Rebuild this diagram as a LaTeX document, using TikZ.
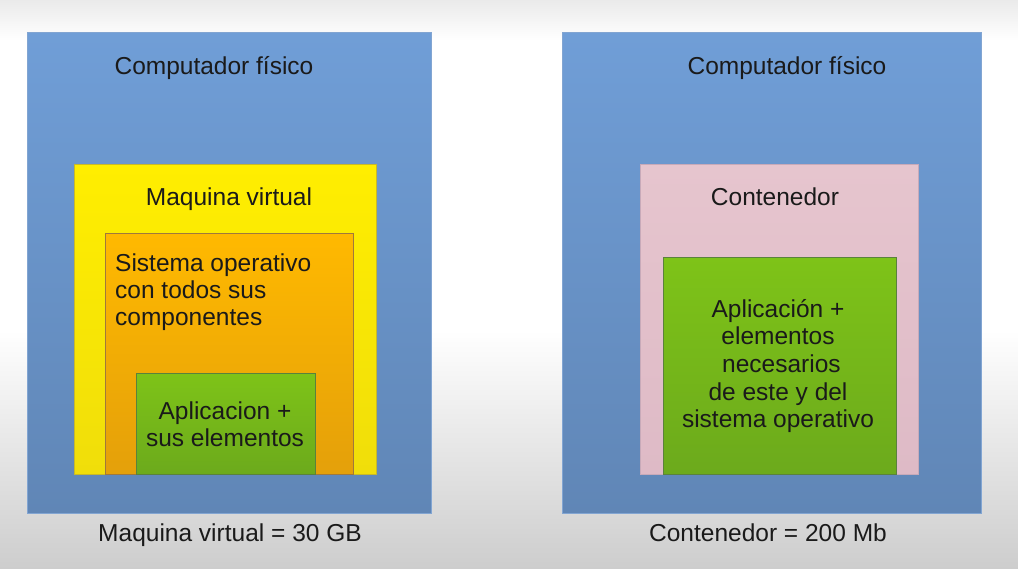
\documentclass[tikz,border=0pt]{standalone}
\usepackage{fontspec}
\setmainfont{Liberation Sans}
\definecolor{txt}{HTML}{1A1A1A}
\definecolor{bluetop}{RGB}{112,158,215}
\definecolor{bluebot}{RGB}{96,134,182}
\definecolor{bluedraw}{RGB}{130,165,210}
\definecolor{yeltop}{RGB}{255,238,0}
\definecolor{yelbot}{RGB}{240,222,10}
\definecolor{yeldraw}{RGB}{200,185,40}
\definecolor{ortop}{RGB}{255,185,0}
\definecolor{orbot}{RGB}{228,160,10}
\definecolor{ordraw}{RGB}{160,120,60}
\definecolor{grtop}{RGB}{126,195,24}
\definecolor{grbot}{RGB}{108,170,28}
\definecolor{grdraw}{RGB}{90,130,60}
\definecolor{pktop}{RGB}{230,197,206}
\definecolor{pkbot}{RGB}{222,186,198}
\definecolor{pkdraw}{RGB}{200,170,185}
\definecolor{bgtop}{RGB}{234,234,234}
\definecolor{bgbot}{RGB}{205,205,205}
\tikzset{
  box/.style={draw=#1, line width=0.6pt, anchor=north west, inner sep=0pt},
  lbl/.style={text=txt, font=\fontsize{24.5}{27.2}\selectfont, inner sep=0pt, align=center},
}
\begin{document}
\begin{tikzpicture}[x=1pt,y=-1pt]
% background
\fill[white] (0,0) rectangle (1018,569);
\shade[top color=bgtop, bottom color=white] (0,0) rectangle (1018,40);
\shade[top color=white, bottom color=bgbot] (0,330) rectangle (1018,569);
\useasboundingbox (0,0) rectangle (1018,569);
% left side
\node[box=bluedraw, top color=bluetop, bottom color=bluebot,
  minimum width=404pt, minimum height=481pt] (pc1) at (27,32) {};
\node[box=yeldraw, top color=yeltop, bottom color=yelbot,
  minimum width=302pt, minimum height=310pt] (vm) at (74,164) {};
\node[box=ordraw, top color=ortop, bottom color=orbot,
  minimum width=248pt, minimum height=241pt] (os) at (105,233) {};
\node[box=grdraw, top color=grtop, bottom color=grbot,
  minimum width=179pt, minimum height=101pt] (app1) at (136,373) {};
% right side
\node[box=bluedraw, top color=bluetop, bottom color=bluebot,
  minimum width=419pt, minimum height=481pt] (pc2) at (562,32) {};
\node[box=pkdraw, top color=pktop, bottom color=pkbot,
  minimum width=278pt, minimum height=310pt] (ct) at (640,164) {};
\node[box=grdraw, top color=grtop, bottom color=grbot,
  minimum width=233pt, minimum height=217pt] (app2) at (663,257) {};
% labels
\node[lbl, anchor=base] (t1) at (214,75) {Computador físico};
\node[lbl, anchor=base] (t2) at (229,206) {Maquina virtual};
\node[lbl, align=left, anchor=west] (t3) at (115,292) {Sistema operativo\\con todos sus\\componentes};
\node[lbl] (t4) at (225,424) {Aplicacion +\\sus elementos};
\node[lbl, anchor=base] (t5) at (787,75) {Computador físico};
\node[lbl, anchor=base] (t6) at (775,206) {Contenedor};
\node[lbl, font=\fontsize{24.5}{27.6}\selectfont] (t7) at (778,366) {Aplicación +\\elementos\\\ necesarios\\de este y del\\sistema operativo};
\node[lbl, anchor=base] (t8) at (230,541) {Maquina virtual = 30 GB};
\node[lbl, anchor=base] (t9) at (768,541) {Contenedor = 200 Mb};
\end{tikzpicture}
\end{document}
